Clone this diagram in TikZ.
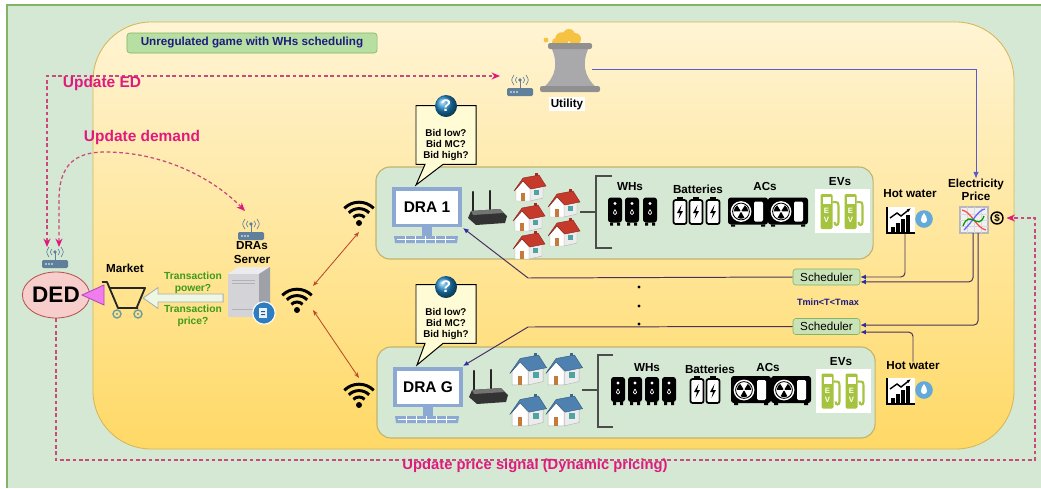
\documentclass[tikz,border=0pt]{standalone}
\usepackage{fontspec}
\setmainfont{Liberation Sans}
\setsansfont{Liberation Sans}
\usepackage{tikz}
\usetikzlibrary{positioning,arrows.meta,calc,shapes.geometric,shapes.arrows,shapes.callouts}

\definecolor{bggreen}{HTML}{D5E8D4}
\definecolor{bgedge}{HTML}{82B366}
\definecolor{sunlight}{HTML}{FFF4D4}
\definecolor{sundeep}{HTML}{FFD966}
\definecolor{sunedge}{HTML}{D6B656}
\definecolor{tagfill}{HTML}{B7DFA1}
\definecolor{navy}{HTML}{1B1B80}
\definecolor{sigpink}{HTML}{E0197D}
\definecolor{sigedge}{HTML}{C94A7C}
\definecolor{dedfill}{HTML}{F8CECC}
\definecolor{dededge}{HTML}{B85450}
\definecolor{tripink}{HTML}{F07CEE}
\definecolor{triedge}{HTML}{B04BB0}
\definecolor{rtrblue}{HTML}{5F7F9A}
\definecolor{monblue}{HTML}{8CA9D3}
\definecolor{evgreen}{HTML}{A5C33E}
\definecolor{txgreen}{HTML}{3C9A1C}
\definecolor{linkred}{HTML}{BA4A2C}
\definecolor{wirepurple}{HTML}{4B2F5E}
\definecolor{arrowblue}{HTML}{2E2EA8}
\definecolor{roofred}{HTML}{C63A2C}
\definecolor{roofblue}{HTML}{4F81B0}
\definecolor{dropblue}{HTML}{63A9DA}
\definecolor{bubblefill}{HTML}{FFFCD5}
\definecolor{qblue}{HTML}{1E88C8}
\definecolor{schedfill}{HTML}{C9E3B7}
\definecolor{paneledge}{HTML}{C2B46C}
\definecolor{utilblue}{HTML}{5B5BD0}
\definecolor{arrowfill}{HTML}{EEF7E4}
\definecolor{doorbrown}{HTML}{C47A3A}
\definecolor{winteal}{HTML}{4FA3A0}
\definecolor{steam}{HTML}{F5C242}
\definecolor{towergray}{HTML}{A9A9AB}
\definecolor{srvfront}{HTML}{D4D4D8}
\definecolor{srvtop}{HTML}{ECECEE}
\definecolor{srvside}{HTML}{9FA1A8}
\definecolor{srvbadge}{HTML}{2E7DC0}
\definecolor{cartwheel}{HTML}{6E9C9A}

\tikzset{
  lbl/.style       ={font=\bfseries\fontsize{8.3}{9.4}\selectfont, align=center, inner sep=0pt},
  txt/.style       ={font=\bfseries\fontsize{7.3}{8.6}\selectfont, align=center, inner sep=0pt, text=txgreen},
  sig/.style       ={font=\bfseries\fontsize{11}{13}\selectfont, text=sigpink, inner sep=0pt},
  sigline/.style   ={draw=sigedge, line width=0.9pt, dash pattern=on 2.6pt off 1.9pt},
  sigtip/.style    ={-{Stealth[length=6pt,width=5pt,color=sigpink]}},
  sigboth/.style   ={{Stealth[length=6pt,width=5pt,color=sigpink]}-{Stealth[length=6pt,width=5pt,color=sigpink]}},
  gametag/.style   ={draw=bgedge, fill=tagfill, rounded corners=2pt, minimum width=6.25cm, minimum height=0.5cm,
                     text=navy, font=\bfseries\fontsize{8.3}{9}\selectfont, inner sep=0pt},
  dedshape/.style  ={ellipse, draw=dededge, fill=dedfill, line width=0.6pt, minimum width=1.65cm, minimum height=1.15cm,
                     font=\bfseries\fontsize{16}{16}\selectfont, inner sep=0pt},
  hollowarrow/.style={single arrow, shape border rotate=180, draw=gray!65, fill=arrowfill, line width=0.6pt,
                     minimum height=2cm, minimum width=0.5cm, inner sep=0.09cm, single arrow head extend=0.16cm,
                     single arrow tip angle=70},
  panel/.style     ={draw=paneledge, fill=bggreen, rounded corners=10pt, line width=0.8pt},
  dralbl/.style    ={font=\bfseries\fontsize{11}{13}\selectfont, inner sep=0pt},
  bubble/.style    ={rectangle callout, draw=black, fill=bubblefill, line width=0.7pt, minimum width=1.5cm,
                     minimum height=1.47cm, callout pointer width=0.45cm},
  bid/.style       ={font=\bfseries\fontsize{7}{7.6}\selectfont, align=center, inner sep=0pt},
  qmark/.style     ={circle, ball color=qblue, text=white, font=\bfseries\fontsize{12}{12}\selectfont,
                     minimum size=0.55cm, inner sep=0pt},
  sched/.style     ={draw=bgedge, fill=schedfill, rounded corners=2pt, minimum width=1.675cm, minimum height=0.4cm,
                     font=\fontsize{8.3}{9}\selectfont, inner sep=0pt},
  feedwire/.style  ={draw=wirepurple, line width=0.7pt, rounded corners=3pt, -{Latex[length=4pt,width=3.5pt,color=arrowblue]}},
  radiolink/.style ={draw=linkred, line width=0.6pt, {Stealth[length=4pt,width=3pt]}-{Stealth[length=4pt,width=3pt]}},
  brk/.style       ={draw=black!70, line width=1.3pt},
  usd/.style       ={circle, draw=black, line width=1pt, minimum size=0.3cm, inner sep=0pt,
                     font=\bfseries\fontsize{7}{7}\selectfont},
  evletter/.style  ={font=\bfseries\fontsize{5.5}{6}\selectfont, text=white, inner sep=0pt},
  tband/.style     ={font=\bfseries\fontsize{6.5}{7}\selectfont, text=navy, inner sep=0pt},
}

% small icons, drawn in pixel units (y grows downwards)
\tikzset{
  router/.pic={
    \draw[rtrblue, line width=0.7pt] (0,-4) -- (0,-12);
    \fill[rtrblue] (0,-12) circle[radius=0.045cm];
    \draw[rtrblue, line width=0.45pt] (-3,-15) .. controls (-5,-12) .. (-3,-9)
                                      (3,-15) .. controls (5,-12) .. (3,-9)
                                      (-6,-17) .. controls (-9,-12) .. (-6,-7)
                                      (6,-17) .. controls (9,-12) .. (6,-7);
    \fill[rtrblue, rounded corners=1pt] (-13,-4) rectangle (13,4);
    \foreach \dx in {-9,-6,-3} \fill[white] (\dx,0) circle[radius=0.022cm];
    \coordinate (-inl) at (-8,-17);
    \coordinate (-inr) at (4,-17);
    \coordinate (-top) at (0,-19);
    \coordinate (-lft) at (-20,-16);
  },
  wifi/.pic={
    \fill (0,0) circle[radius=0.075cm];
    \foreach \rr in {0.2,0.36,0.52}
      \draw[line width=2.1pt] (0,0) ++(45:\rr cm) arc[start angle=45, end angle=135, radius=\rr cm];
    \coordinate (-up) at (0,-27);
    \coordinate (-down) at (0,9);
    \coordinate (-ur) at (16,-24);
    \coordinate (-r) at (16,0);
  },
  house/.pic={
    \fill[#1!80!black] (6,-15) rectangle (9,-9);
    \filldraw[fill=gray!15, draw=gray!60, line width=0.3pt] (1,0) -- (14,-3) -- (14,10) -- (1,13) -- cycle;
    \fill[winteal] (5,2) rectangle (10,7);
    \filldraw[fill=white, draw=gray!60, line width=0.3pt] (-13,13) -- (-13,1) -- (-6,-7) -- (1,1) -- (1,13) -- cycle;
    \fill[doorbrown] (-8,5) rectangle (-4,13);
    \filldraw[fill=#1, draw=#1!70!black, line width=0.3pt]
      (-15,3) -- (-6,-10) -- (10,-13) -- (17,-2) -- (2,1) -- (-6,-7) -- (-13,1) -- cycle;
  },
  wh/.pic={
    \fill[black, rounded corners=2pt] (-7,-13) rectangle (7,12);
    \fill[black] (-5,12) rectangle (-2,15) (2,12) rectangle (5,15);
    \fill[white] (0,-7) circle[radius=0.04cm];
    \draw[white, line width=0.5pt] (0,-1) .. controls (2,2) and (2,4) .. (0,4) .. controls (-2,4) and (-2,2) .. (0,-1);
  },
  battery/.pic={
    \fill[black] (-3,-15) rectangle (3,-12);
    \draw[black, fill=white, line width=1.2pt, rounded corners=1.5pt] (-6.5,-12) rectangle (6.5,12);
    \fill[black] (1.5,-7) -- (-3,1) -- (0,1) -- (-1.5,7) -- (3,-1) -- (0,-1) -- cycle;
  },
  ac/.pic={
    \fill[black, rounded corners=2pt] (-20,-14) rectangle (20,13);
    \fill[black] (-17,13) rectangle (-13,15) (13,13) rectangle (17,15);
    \fill[white] (-7,0) circle[radius=0.26cm];
    \draw[black, line width=0.6pt] (-7,0) circle[radius=0.21cm];
    \foreach \a in {30,150,270}
      \fill[black] (-7,0) -- ++(\a-28:0.18cm) arc[start angle=\a-28, end angle=\a+28, radius=0.18cm] -- cycle;
    \fill[white] (-7,0) circle[radius=0.03cm];
    \fill[white, rounded corners=1pt] (6,-10) rectangle (15,10);
  },
  ev/.pic={
    \fill[white] (-27.5,-22) rectangle (27.5,22);
    \foreach \cx in {-12,12} {
      \begin{scope}[shift={(\cx,0)}]
        \draw[evgreen, line width=1.5pt] (2,-9) .. controls (8,-9) .. (8,-3) -- (8,11) .. controls (8,15) and (4,15) .. (4,11);
        \fill[evgreen, rounded corners=1pt] (-10,-17) rectangle (2,18);
        \fill[white] (-8,-14) rectangle (0,-7);
        \node[evletter] (-e\cx) at (-4,0) {E};
        \node[evletter] (-v\cx) at (-4,9) {V};
      \end{scope}
    }
  },
  hotwater/.pic={
    \fill[white] (-14,-13) rectangle (14,13);
    \foreach \xx/\hh in {-10/5,-5/9,0/13,5/17} \fill[black] (\xx,12) rectangle (\xx+3.5,12-\hh);
    \draw[black, line width=1pt, -{Latex[length=3pt]}] (-11,-2) -- (-4,-7) -- (0,-4) -- (10,-12);
    \draw[black, line width=1.5pt] (-14,-13) -- (-14,13) -- (14,13);
    \fill[dropblue] (23,-1) circle[radius=0.22cm];
    \fill[white] (23,-7) .. controls (27,-2) and (27,3) .. (23,3) .. controls (19,3) and (19,-2) .. (23,-7);
    \coordinate (-s) at (4,13);
  },
  pricechart/.pic={
    \filldraw[fill=gray!12, draw=gray!55, line width=0.8pt] (-14,-13) rectangle (14,13);
    \draw[gray!30, line width=0.3pt] (-14,-6) -- (14,-6) (-14,0) -- (14,0) (-14,6) -- (14,6)
                                     (-7,-13) -- (-7,13) (0,-13) -- (0,13) (7,-13) -- (7,13);
    \draw[red!70, line width=0.9pt] (-12,-10) .. controls (-2,-8) and (2,8) .. (12,10);
    \draw[blue!60, line width=0.9pt] (-10,10) .. controls (0,0) and (4,-10) .. (11,-11);
    \draw[green!60!black, line width=0.9pt] (-11,6) .. controls (-4,-12) and (4,12) .. (10,-4);
    \coordinate (-s1) at (-1,13);
    \coordinate (-s2) at (4,13);
  },
  monitor/.pic={
    \fill[monblue] (-35,-20) rectangle (35,20);
    \fill[white] (-31,-16.5) rectangle (31,16.5);
    \fill[monblue] (-5,20) rectangle (5,29);
    \fill[monblue] (-33,29) -- (31,29) -- (30,36) -- (-32,36) -- cycle;
    \draw[white, line width=0.4pt] (-30,32.5) -- (28,32.5)
      \foreach \kx in {-22,-12,-2,8,18} {(\kx,29) -- (\kx,36)};
    \coordinate (-nw) at (-11,-22);
    \coordinate (-se) at (36,21);
    \coordinate (-ne) at (35,-21);
  },
  wlrouter/.pic={
    \draw[black!85, line width=1.6pt, line cap=round] (-15,-4) -- (-15,-24) (2,-6) -- (2,-25);
    \fill[black!80] (-20,2) -- (-17,-5) -- (12,-7) -- (19,0) -- (17,7) -- (-12,9) -- cycle;
    \fill[black!55] (-17,-5) -- (12,-7) -- (15,-3) -- (-15,-1) -- cycle;
  },
  server/.pic={
    \fill[srvtop] (-21,-19) -- (-11,-26) -- (21,-26) -- (10,-19) -- cycle;
    \fill[srvside] (10,-19) -- (21,-26) -- (21,18) -- (10,24) -- cycle;
    \fill[srvfront] (-21,-19) rectangle (10,24);
    \draw[gray!60, line width=0.5pt] (-17,-13) -- (6,-13) (-17,-10) -- (6,-10) (-17,16) -- (6,16);
    \filldraw[fill=srvbadge, draw=white, line width=0.8pt] (15,20) circle[radius=0.28cm];
    \fill[white!90!srvbadge] (10,15) rectangle (18,25);
    \fill[srvbadge!70!black] (12,18) rectangle (16,19) (12,21) rectangle (16,22);
  },
  cart/.pic={
    \draw[black!85, line width=1.3pt, line join=round] (-20,-15) -- (-15,-15) -- (-4,11) -- (16,11)
                                                        (-12,-9) -- (23,-9) -- (15,10);
    \foreach \wx in {-5,16} {
      \draw[cartwheel, line width=1pt] (\wx,17) circle[radius=0.1cm];
      \fill[cartwheel] (\wx,17) circle[radius=0.03cm];
    }
  },
  tower/.pic={
    \foreach \cx/\cy/\cr in {-8/-31/0.17,-1/-35/0.15,5/-31/0.15,-14/-28/0.1}
      \fill[steam] (\cx,\cy) circle[radius=\cr cm];
    \fill[steam] (-24,-30) circle[radius=0.06cm];
    \fill[towergray] (-19,-23) .. controls (-12,-8) and (-13,6) .. (-27,18) -- (27,18)
                     .. controls (13,6) and (12,-8) .. (19,-23) -- cycle;
    \fill[towergray!85!black, rounded corners=1.5pt] (-22,-27) rectangle (22,-21);
    \fill[towergray!85!black, rounded corners=1.5pt] (-30,16) rectangle (30,22);
    \coordinate (-east) at (22,-1);
  },
}

\begin{document}
\begin{tikzpicture}[x=0.025cm, y=-0.025cm]
  \useasboundingbox (0,0) rectangle (1041,488);

  % backdrop and game area
  \fill[bggreen] (7,5) rectangle (1041,488);
  \draw[bgedge, line width=0.9pt] (7,488) -- (7,5) -- (1041,5);
  \path[top color=sunlight, bottom color=sundeep, draw=sunedge, line width=0.6pt, rounded corners=1.45cm]
    (93,22) rectangle (1014,449);
  \node[gametag] (title) at (252,43) {Unregulated game with WHs scheduling};

  % DED and market
  \node[dedshape] (ded) at (56,295) {DED};
  \pic (dedrtr) at (55,264) {router};
  \fill[tripink, draw=triedge, line width=0.6pt] (82,295) -- (104,285) -- (104,305) -- cycle;
  \pic (cart) at (122,297) {cart};
  \node[lbl] (market) at (125,268) {Market};
  \node[hollowarrow] (txarrow) at (186,298) {};
  \node[txt] (txpower) at (193,283) {Transaction\\power?};
  \node[txt] (txprice) at (193,316) {Transaction\\price?};

  % DRAs server
  \pic (srv) at (249,293) {server};
  \pic (srvrtr) at (251,236) {router};
  \node[lbl] (srvlbl) at (252,252.5) {DRAs\\Server};
  \pic (srvwifi) at (297,310) {wifi};

  % utility
  \pic (util) at (570,70) {tower};
  \pic (utilrtr) at (520,92) {router};
  \node[lbl, fill=white, inner sep=1pt] (utillbl) at (567,104) {Utility};

  % DRA panels
  \node[panel, minimum width=12.425cm, minimum height=2.3cm] (dra1box) at (624.5,213) {};
  \node[panel, minimum width=12.45cm, minimum height=2.275cm] (dragbox) at (626,392.5) {};

  \pic (dra1wifi) at (359,223) {wifi};
  \pic (dragwifi) at (359,405) {wifi};
  \draw[radiolink] (srvwifi-ur) -- (dra1wifi-down);
  \draw[radiolink] (srvwifi-r) -- (dragwifi-up);

  % DRA 1
  \pic (dra1pc) at (427,207) {monitor};
  \node[dralbl] (dra1) at (427,207) {DRA 1};
  \node[bubble, callout absolute pointer={(dra1pc-nw)}] (bub1) at (446,135) {};
  \node[bid] (bid1) at (446,145) {Bid low?\\Bid MC?\\Bid high?};
  \node[qmark] (q1) at (446,106) {?};
  \pic (dra1rtr) at (488,216) {wlrouter};
  \foreach \hx/\hy in {529/188,563/204,528/218,563/233,528/246}
    \pic at (\hx,\hy) {house=roofred};
  \draw[brk] (580,212) -- (596,212) (612,176) -- (596,176) -- (596,248) -- (612,248);
  \node[lbl] (wh1) at (630,187) {WHs};
  \foreach \ux in {615,632,650} \pic at (\ux,210.5) {wh};
  \node[lbl] (bat1) at (698,189) {Batteries};
  \foreach \ux in {680,696,713} \pic at (\ux,212) {battery};
  \node[lbl] (ac1) at (765,186) {ACs};
  \foreach \ux in {748,788} \pic at (\ux,211.5) {ac};
  \node[lbl] (ev1) at (840,182) {EVs};
  \pic (ev1pic) at (842.5,211) {ev};

  % DRA G
  \pic (dragpc) at (428,387) {monitor};
  \node[dralbl] (drag) at (428,387) {DRA G};
  \node[bubble, callout absolute pointer={(dragpc-nw)}] (bub2) at (446,314) {};
  \node[bid] (bid2) at (446,324) {Bid low?\\Bid MC?\\Bid high?};
  \node[qmark] (q2) at (446,287) {?};
  \pic (dragrtr) at (489,395) {wlrouter};
  \foreach \hx/\hy in {527/370,563/370,527/411,563/411}
    \pic[scale=1.15] at (\hx,\hy) {house=roofblue};
  \draw[brk] (582,390) -- (598,390) (613,355) -- (598,355) -- (598,427) -- (613,427);
  \node[lbl] (wh2) at (647,368) {WHs};
  \foreach \ux in {618,635,652,669} \pic at (\ux,390) {wh};
  \node[lbl] (bat2) at (710,369) {Batteries};
  \foreach \ux in {697,713} \pic at (\ux,391) {battery};
  \node[lbl] (ac2) at (768,367) {ACs};
  \foreach \ux in {751,791} \pic at (\ux,390) {ac};
  \node[lbl] (ev2) at (841,362) {EVs};
  \pic (ev2pic) at (843.5,390.5) {ev};

  % hot water and price
  \node[lbl] (hw1lbl) at (910,194) {Hot water};
  \pic (hw1) at (901,220) {hotwater};
  \node[lbl] (hw2lbl) at (913,366) {Hot water};
  \pic (hw2) at (901,391) {hotwater};
  \node[lbl] (pricelbl) at (976,190) {Electricity\\Price};
  \pic (price) at (974,220) {pricechart};
  \node[usd] (priceusd) at (997,218) {\$};

  % schedulers
  \node[sched] (sched1) at (826.5,277) {Scheduler};
  \node[sched] (sched2) at (826.5,326.5) {Scheduler};
  \node[tband] (tband) at (828,302) {Tmin<T<Tmax};
  \foreach \yy in {287,306,324} \fill (639,\yy) circle[radius=1.2pt];

  \draw[feedwire] (hw1-s) |- (sched1.east);
  \draw[feedwire] (price-s1) |- ([yshift=-3.5pt]sched1.east);
  \draw[feedwire] (price-s2) |- ([yshift=1pt]sched2.east);
  \draw[feedwire] (hw2lbl.north) |- ([yshift=-4pt]sched2.east);
  \draw[feedwire, rounded corners=0pt, -{Latex[length=5pt,width=4pt,color=utilblue]}, draw=utilblue]
    (util-east) -| (pricelbl.north);
  \draw[feedwire, rounded corners=0pt] (sched1.west) -- (528,278) -- (dra1pc-se);
  \draw[feedwire, rounded corners=0pt] (sched2.west) -- (528,327) -- (dragpc-ne);

  % update signals
  \draw[sigline, sigboth] (dedrtr-inl) |- (utilrtr-lft);
  \node[sig] (upded) at (102,83) {Update ED};
  \draw[sigline, sigboth] (dedrtr-inr) -- (59,200) .. controls (59,165) and (75,152) .. (105,152)
    .. controls (165,152) and (215,180) .. ($(srvrtr-top)+(-6,-6)$);
  \node[sig] (updem) at (142,137) {Update demand};
  \draw[sigline, sigtip, shorten >=2pt] (ded.south) |- (1035,460) |- (priceusd.east);
  \node[sig, font=\bfseries\fontsize{10.5}{12}\selectfont] (upprice) at (535,466) {Update price signal (Dynamic pricing)};
\end{tikzpicture}
\end{document}
